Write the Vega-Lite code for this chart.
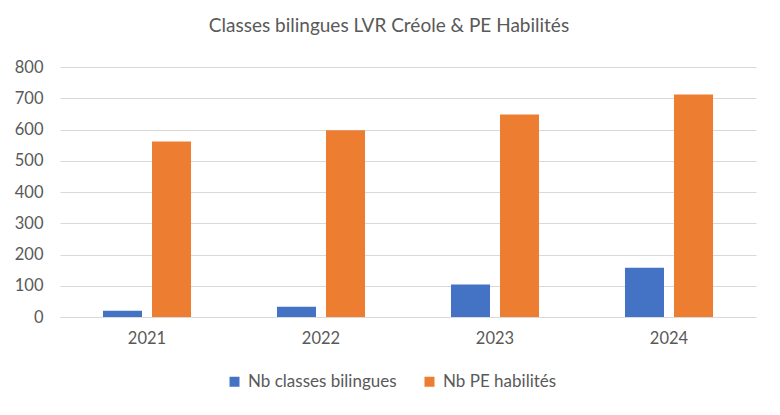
{
  "$schema": "https://vega.github.io/schema/vega-lite/v6.json",
  "width": 696,
  "height": 250,
  "autosize": {"type": "none"},
  "padding": {"left": 60, "top": 67, "right": 24, "bottom": 98},
  "background": "white",
  "title": {
    "text": "Classes bilingues LVR Créole & PE Habilités",
    "font": "Lato",
    "fontSize": 19,
    "fontWeight": "normal",
    "color": "#595959",
    "anchor": "middle",
    "dx": -19,
    "offset": 23
  },
  "config": {
    "view": {"stroke": null},
    "font": "Lato"
  },
  "data": {
    "values": [
      {"annee": "2021", "serie": "Nb classes bilingues", "valeur": 20},
      {"annee": "2021", "serie": "Nb PE habilités", "valeur": 562},
      {"annee": "2022", "serie": "Nb classes bilingues", "valeur": 33},
      {"annee": "2022", "serie": "Nb PE habilités", "valeur": 598},
      {"annee": "2023", "serie": "Nb classes bilingues", "valeur": 104},
      {"annee": "2023", "serie": "Nb PE habilités", "valeur": 648},
      {"annee": "2024", "serie": "Nb classes bilingues", "valeur": 158},
      {"annee": "2024", "serie": "Nb PE habilités", "valeur": 712}
    ]
  },
  "mark": {"type": "bar"},
  "encoding": {
    "x": {
      "field": "annee",
      "type": "nominal",
      "scale": {"paddingInner": 0, "paddingOuter": 0},
      "axis": {
        "title": null,
        "labelAngle": 0,
        "labelFont": "Lato",
        "labelFontSize": 16.5,
        "labelColor": "#595959",
        "labelPadding": 13,
        "ticks": false,
        "domainColor": "#d9d9d9",
        "domainWidth": 1
      }
    },
    "xOffset": {
      "field": "serie",
      "type": "nominal",
      "sort": ["Nb classes bilingues", "Nb PE habilités"],
      "scale": {"paddingInner": 0.204, "paddingOuter": 0.877}
    },
    "y": {
      "field": "valeur",
      "type": "quantitative",
      "scale": {"domain": [0, 800], "nice": false},
      "axis": {
        "title": null,
        "values": [0, 100, 200, 300, 400, 500, 600, 700, 800],
        "labelFont": "Lato",
        "labelFontSize": 16.5,
        "labelColor": "#595959",
        "labelPadding": 17,
        "ticks": false,
        "domain": false,
        "gridColor": "#d9d9d9",
        "gridWidth": 1
      }
    },
    "color": {
      "field": "serie",
      "type": "nominal",
      "scale": {
        "domain": ["Nb classes bilingues", "Nb PE habilités"],
        "range": ["#4472C4", "#ED7D31"]
      },
      "legend": {
        "title": null,
        "orient": "none",
        "direction": "horizontal",
        "legendX": 166,
        "legendY": 306,
        "symbolType": "square",
        "symbolSize": 100,
        "symbolStrokeWidth": 0,
        "labelFont": "Lato",
        "labelFontSize": 17,
        "labelColor": "#595959",
        "labelOffset": 5,
        "columnPadding": 24
      }
    }
  }
}
